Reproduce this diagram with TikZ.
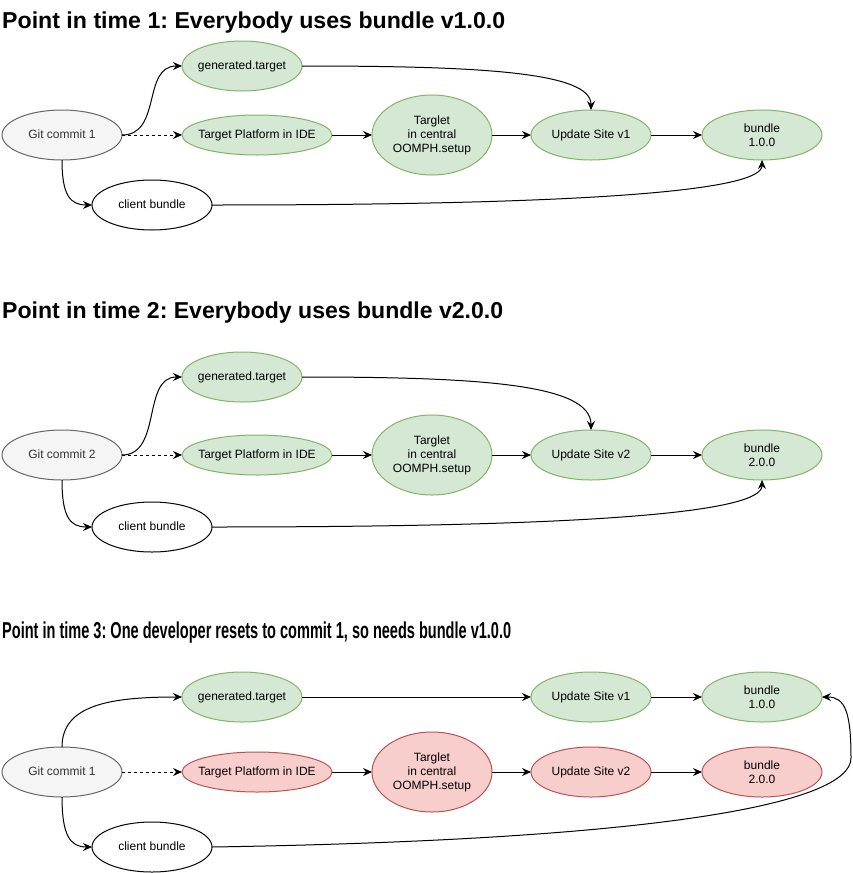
\documentclass[tikz,border=0pt]{standalone}
\usepackage{fontspec}
\setmainfont{Liberation Sans}
\usepackage{graphicx}
\usetikzlibrary{shapes.geometric,arrows.meta}
\frenchspacing
\definecolor{gfill}{HTML}{D5E8D4}
\definecolor{gdraw}{HTML}{82B366}
\definecolor{rfill}{HTML}{F8CECC}
\definecolor{rdraw}{HTML}{B85450}
\definecolor{kfill}{HTML}{F5F5F5}
\definecolor{kdraw}{HTML}{666666}
\definecolor{ktext}{HTML}{333333}
\begin{document}
\begin{tikzpicture}[x=1pt,y=-1pt,
  ell/.style={ellipse, draw, line width=1pt, inner sep=0pt, outer sep=0pt, minimum width=120pt, minimum height=50pt},
  gnode/.style={ell, fill=gfill, draw=gdraw},
  rnode/.style={ell, fill=rfill, draw=rdraw},
  knode/.style={ell, fill=kfill, draw=kdraw},
  wnode/.style={ell, fill=white, draw=black},
  wide/.style={minimum width=150pt, minimum height=40pt},
  tall/.style={minimum height=80pt},
  lab/.style={font=\fontsize{12}{14}\selectfont, align=center, inner sep=0pt, text=black},
  lab1/.style={lab, text height=8.6pt, text depth=2.5pt},
  klab/.style={lab1, text=ktext},
  ttl/.style={font=\fontsize{23}{26}\selectfont\bfseries, inner sep=0pt, anchor=base west},
  conn/.style={line width=1pt, draw=black, -{Stealth[length=9pt,width=8pt,inset=3pt]}},
  dconn/.style={conn, dash pattern=on 3pt off 3pt}
]
\useasboundingbox (0,0) rectangle (853,873);
\fill[white] (0,0) rectangle (853,873);

% ---------------- Section 1
\node[ttl] (t1) at (2,28) {\resizebox{503pt}{\height}{Point in time 1: Everybody uses bundle v1.0.0}};
\node[knode, label={[klab]center:Git commit 1}] (g1) at (62,135) {};
\node[gnode, label={[lab1]center:generated.target}] (gen1) at (242,66) {};
\node[gnode, wide, label={[lab1]center:Target Platform in IDE}] (tp1) at (257,135) {};
\node[gnode, tall, label={[lab]center:{Targlet\\in central\\OOMPH.setup}}] (tg1) at (432,135) {};
\node[gnode, label={[lab1]center:Update Site v1}] (us1) at (591,135) {};
\node[gnode, label={[lab]center:{bundle\\1.0.0}}] (b1) at (762,135) {};
\node[wnode, label={[lab1]center:client bundle}] (cb1) at (152,205) {};

\draw[conn] (g1.east) .. controls (162,135) and (142,66) .. (gen1.west);
\draw[dconn] (g1.east) -- (tp1.west);
\draw[conn] (g1.south) .. controls (62,195) and (70,205) .. (cb1.west);
\draw[conn] (tp1.east) -- (tg1.west);
\draw[conn] (tg1.east) -- (us1.west);
\draw[conn] (us1.east) -- (b1.west);
\draw[conn] (gen1.east) .. controls (480,66) and (591,72) .. (us1.north);
\draw[conn] (cb1.east) .. controls (600,205) and (762,190) .. (b1.south);

% ---------------- Section 2
\node[ttl] (t2) at (2,318) {\resizebox{501pt}{\height}{Point in time 2: Everybody uses bundle v2.0.0}};
\node[knode, label={[klab]center:Git commit 2}] (g2) at (62,455) {};
\node[gnode, label={[lab1]center:generated.target}] (gen2) at (242,377) {};
\node[gnode, wide, label={[lab1]center:Target Platform in IDE}] (tp2) at (257,455) {};
\node[gnode, tall, label={[lab]center:{Targlet\\in central\\OOMPH.setup}}] (tg2) at (432,455) {};
\node[gnode, label={[lab1]center:Update Site v2}] (us2) at (591,455) {};
\node[gnode, label={[lab]center:{bundle\\2.0.0}}] (b2) at (762,455) {};
\node[wnode, label={[lab1]center:client bundle}] (cb2) at (152,527) {};

\draw[conn] (g2.east) .. controls (162,455) and (142,377) .. (gen2.west);
\draw[dconn] (g2.east) -- (tp2.west);
\draw[conn] (g2.south) .. controls (62,517) and (70,527) .. (cb2.west);
\draw[conn] (tp2.east) -- (tg2.west);
\draw[conn] (tg2.east) -- (us2.west);
\draw[conn] (us2.east) -- (b2.west);
\draw[conn] (gen2.east) .. controls (480,377) and (591,384) .. (us2.north);
\draw[conn] (cb2.east) .. controls (600,527) and (762,512) .. (b2.south);

% ---------------- Section 3
\node[ttl] (t3) at (2,638) {\resizebox{509pt}{\height}{Point in time 3: One developer resets to commit 1, so needs bundle v1.0.0}};
\node[knode, label={[klab]center:Git commit 1}] (g3) at (62,772) {};
\node[gnode, label={[lab1]center:generated.target}] (gen3) at (242,697) {};
\node[rnode, wide, label={[lab1]center:Target Platform in IDE}] (tp3) at (257,772) {};
\node[rnode, tall, label={[lab]center:{Targlet\\in central\\OOMPH.setup}}] (tg3) at (432,772) {};
\node[gnode, label={[lab1]center:Update Site v1}] (us31) at (591,697) {};
\node[gnode, label={[lab]center:{bundle\\1.0.0}}] (b31) at (762,697) {};
\node[rnode, label={[lab1]center:Update Site v2}] (us32) at (591,772) {};
\node[rnode, label={[lab]center:{bundle\\2.0.0}}] (b32) at (762,772) {};
\node[wnode, label={[lab1]center:client bundle}] (cb3) at (152,847) {};
\coordinate (turn) at (851,758);

\draw[conn] (g3.north) .. controls (62,705) and (110,697) .. (gen3.west);
\draw[dconn] (g3.east) -- (tp3.west);
\draw[conn] (g3.south) .. controls (62,835) and (70,847) .. (cb3.west);
\draw[conn] (tp3.east) -- (tg3.west);
\draw[conn] (tg3.east) -- (us32.west);
\draw[conn] (us32.east) -- (b32.west);
\draw[conn] (gen3.east) -- (us31.west);
\draw[conn] (us31.east) -- (b31.west);
\draw[conn] (cb3.east) .. controls (650,840) and (851,805) .. (turn) .. controls (851,712) and (845,697) .. (b31.east);
\end{tikzpicture}
\end{document}
